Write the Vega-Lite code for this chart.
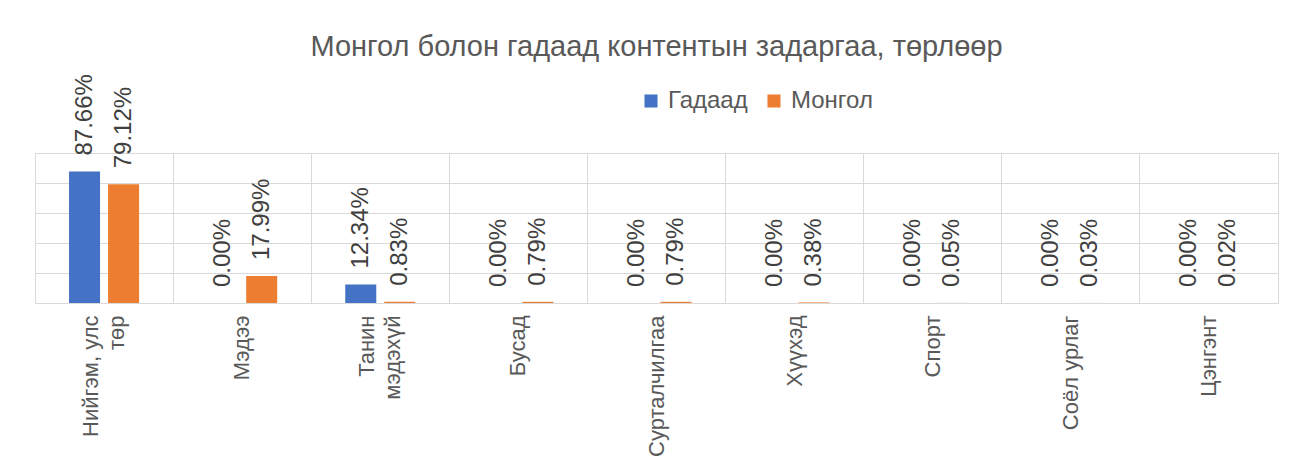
{
  "$schema": "https://vega.github.io/schema/vega-lite/v6.json",
  "width": 1243,
  "height": 150,
  "autosize": "none",
  "padding": {"left": 35, "top": 153, "right": 29, "bottom": 168},
  "background": "white",
  "config": {
    "font": "Liberation Sans",
    "view": {"stroke": "#d9d9d9", "strokeWidth": 1}
  },
  "title": {
    "text": "Монгол болон гадаад контентын задаргаа, төрлөөр",
    "fontSize": 29,
    "fontWeight": "normal",
    "color": "#595959",
    "anchor": "middle",
    "offset": 12,
    "font": "Liberation Sans"
  },
  "data": {
    "values": [
      {"category": "Нийгэм, улс төр", "series": "Гадаад", "value": 0.8766},
      {"category": "Нийгэм, улс төр", "series": "Монгол", "value": 0.7912},
      {"category": "Мэдээ", "series": "Гадаад", "value": 0.0},
      {"category": "Мэдээ", "series": "Монгол", "value": 0.1799},
      {"category": "Танин мэдэхүй", "series": "Гадаад", "value": 0.1234},
      {"category": "Танин мэдэхүй", "series": "Монгол", "value": 0.0083},
      {"category": "Бусад", "series": "Гадаад", "value": 0.0},
      {"category": "Бусад", "series": "Монгол", "value": 0.0079},
      {"category": "Сурталчилгаа", "series": "Гадаад", "value": 0.0},
      {"category": "Сурталчилгаа", "series": "Монгол", "value": 0.0079},
      {"category": "Хүүхэд", "series": "Гадаад", "value": 0.0},
      {"category": "Хүүхэд", "series": "Монгол", "value": 0.0038},
      {"category": "Спорт", "series": "Гадаад", "value": 0.0},
      {"category": "Спорт", "series": "Монгол", "value": 0.0005},
      {"category": "Соёл урлаг", "series": "Гадаад", "value": 0.0},
      {"category": "Соёл урлаг", "series": "Монгол", "value": 0.0003},
      {"category": "Цэнгэнт", "series": "Гадаад", "value": 0.0},
      {"category": "Цэнгэнт", "series": "Монгол", "value": 0.0002}
    ]
  },
  "encoding": {
    "x": {
      "field": "category",
      "type": "nominal",
      "sort": null,
      "scale": {"paddingInner": 0, "paddingOuter": 0},
      "axis": {
        "title": null,
        "labelAngle": -90,
        "labelFontSize": 22,
        "labelColor": "#595959",
        "labelPadding": 12,
        "labelLineHeight": 26,
        "labelLimit": 300,
        "labelExpr": "datum.label == 'Нийгэм, улс төр' ? ['Нийгэм, улс', 'төр'] : datum.label == 'Танин мэдэхүй' ? ['Танин', 'мэдэхүй'] : datum.label",
        "labelOffset": {
          "condition": {"test": "datum.value == 'Нийгэм, улс төр' || datum.value == 'Танин мэдэхүй'", "value": -13},
          "value": 0
        },
        "ticks": false,
        "domain": true,
        "domainColor": "#d9d9d9",
        "grid": true,
        "gridColor": "#d9d9d9",
        "bandPosition": 0
      }
    },
    "xOffset": {
      "field": "series",
      "type": "nominal",
      "sort": ["Гадаад", "Монгол"],
      "scale": {"paddingInner": 0.205, "paddingOuter": 0.872}
    },
    "y": {
      "field": "value",
      "type": "quantitative",
      "scale": {"domain": [0, 1]},
      "axis": {
        "title": null,
        "labels": false,
        "ticks": false,
        "domain": false,
        "values": [0, 0.2, 0.4, 0.6, 0.8, 1],
        "gridColor": "#d9d9d9"
      }
    }
  },
  "layer": [
    {
      "mark": {"type": "bar"},
      "encoding": {
        "color": {
          "field": "series",
          "type": "nominal",
          "sort": ["Гадаад", "Монгол"],
          "scale": {"domain": ["Гадаад", "Монгол"], "range": ["#4472C4", "#ED7D31"]},
          "legend": {
            "title": null,
            "orient": "none",
            "direction": "horizontal",
            "legendX": 604,
            "legendY": -64,
            "symbolType": "square",
            "symbolSize": 170,
            "symbolStrokeWidth": 0,
            "labelFontSize": 24,
            "labelColor": "#595959",
            "columnPadding": 14,
            "labelOffset": 5
          }
        }
      }
    },
    {
      "mark": {
        "type": "text",
        "angle": 270,
        "align": "left",
        "baseline": "middle",
        "dx": 16,
        "fontSize": 24,
        "color": "#404040"
      },
      "encoding": {
        "text": {"field": "value", "type": "quantitative", "format": ".2%"}
      }
    }
  ]
}
